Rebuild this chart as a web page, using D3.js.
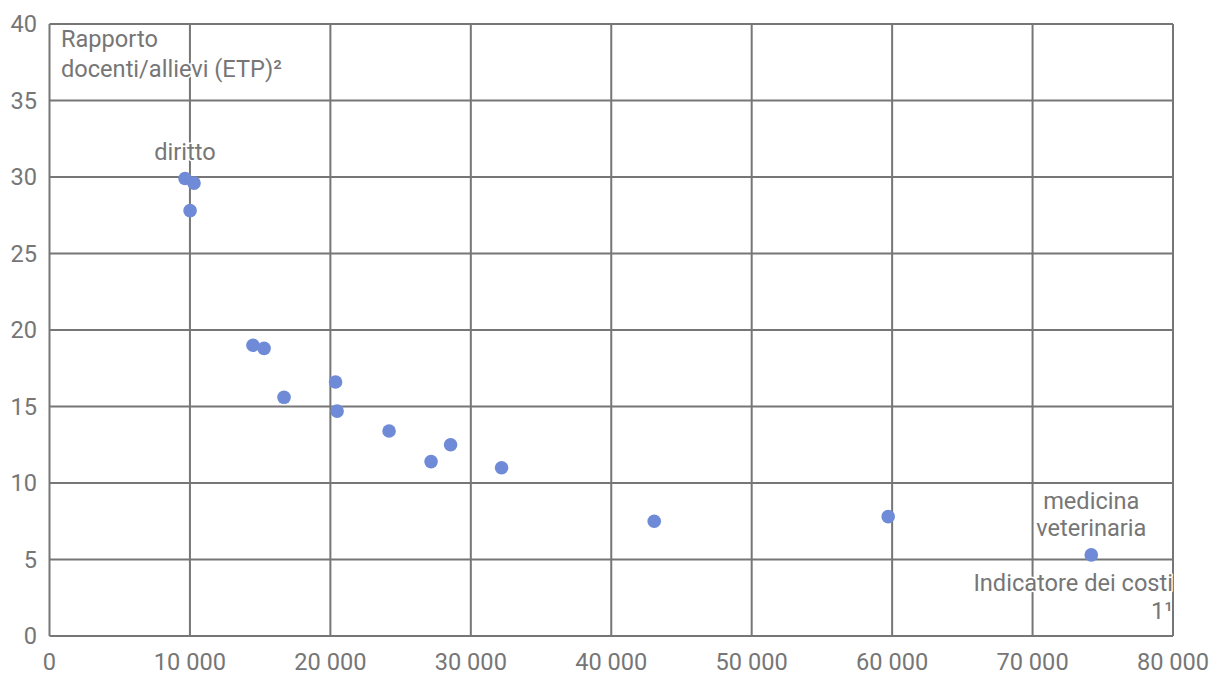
<!DOCTYPE html>
<html><head><meta charset="utf-8">
<script src="https://cdn.jsdelivr.net/npm/d3@7"></script>
<style>body{margin:0;background:#fff;}svg text{font-family:Roboto,sans-serif;}</style>
</head><body><svg id="c" width="1220" height="686"></svg>
<script>
const costs = [9650, 10290, 10010, 14490, 15280, 16700, 20370, 20480, 24180, 27170, 28560, 32190, 43060, 59720, 74180];
const ratios = [29.9, 29.6, 27.8, 19.0, 18.8, 15.6, 16.6, 14.7, 13.4, 11.4, 12.5, 11.0, 7.5, 7.8, 5.3];
const xTicks = [0, 10000, 20000, 30000, 40000, 50000, 60000, 70000, 80000];
const yTicks = [0, 5, 10, 15, 20, 25, 30, 35, 40];
const yTitle = ["Rapporto", "docenti/allievi (ETP)²"];
const xTitle = ["Indicatore dei costi", "1¹"];
const pointLabels = [{i: 0, lines: ["diritto"]}, {i: 14, lines: ["medicina", "veterinaria"]}];

const svg = d3.select("#c");
const L = 49.5, R = 1173, T = 24, B = 636;
const x = d3.scaleLinear().domain([0, 80000]).range([L, R]);
const y = d3.scaleLinear().domain([0, 40]).range([B, T]);
const grey = "#767676";
const FS = 23.6;
const fmt = d => d3.format(",")(d).replace(/,/g, " ");

const g = svg.append("g");
g.selectAll(".vx").data(xTicks).join("line")
  .attr("x1", d => x(d)).attr("x2", d => x(d)).attr("y1", T).attr("y2", B)
  .attr("stroke", grey).attr("stroke-width", 2);
g.selectAll(".hy").data(yTicks).join("line")
  .attr("x1", L).attr("x2", R).attr("y1", d => y(d)).attr("y2", d => y(d))
  .attr("stroke", grey).attr("stroke-width", 2);

svg.append("g").selectAll("text").data(xTicks).join("text")
  .attr("x", d => x(d)).attr("y", 670).attr("text-anchor", "middle")
  .attr("font-size", FS).attr("fill", grey).text(fmt);
svg.append("g").selectAll("text").data(yTicks).join("text")
  .attr("x", 37).attr("y", d => y(d) + 8).attr("text-anchor", "end")
  .attr("font-size", FS).attr("fill", grey).text(d => d);

const halo = sel => sel.attr("stroke", "#fff").attr("stroke-width", 3).attr("paint-order", "stroke").attr("stroke-linejoin", "round");

svg.append("g").selectAll("text").data(yTitle).join("text")
  .attr("x", 61).attr("y", (d, i) => 47 + i * 30).attr("font-size", FS).attr("fill", grey)
  .call(halo).text(d => d);
svg.append("g").selectAll("text").data(xTitle).join("text")
  .attr("x", R).attr("y", (d, i) => 591 + i * 27.5).attr("text-anchor", "end").attr("font-size", FS).attr("fill", grey)
  .call(halo).text(d => d);

const data = costs.map((c, i) => ({c, r: ratios[i]}));
svg.append("g").selectAll("circle").data(data).join("circle")
  .attr("cx", d => x(d.c)).attr("cy", d => y(d.r)).attr("r", 6.8)
  .attr("fill", "#6f8bd8");

pointLabels.forEach(pl => {
  const d = data[pl.i];
  const n = pl.lines.length;
  svg.append("g").selectAll("text").data(pl.lines).join("text")
    .attr("x", x(d.c)).attr("y", (t, k) => y(d.r) - 19 - (n - 1 - k) * 27)
    .attr("text-anchor", "middle").attr("font-size", FS).attr("fill", grey)
    .call(halo).text(t => t);
});
</script></body></html>
